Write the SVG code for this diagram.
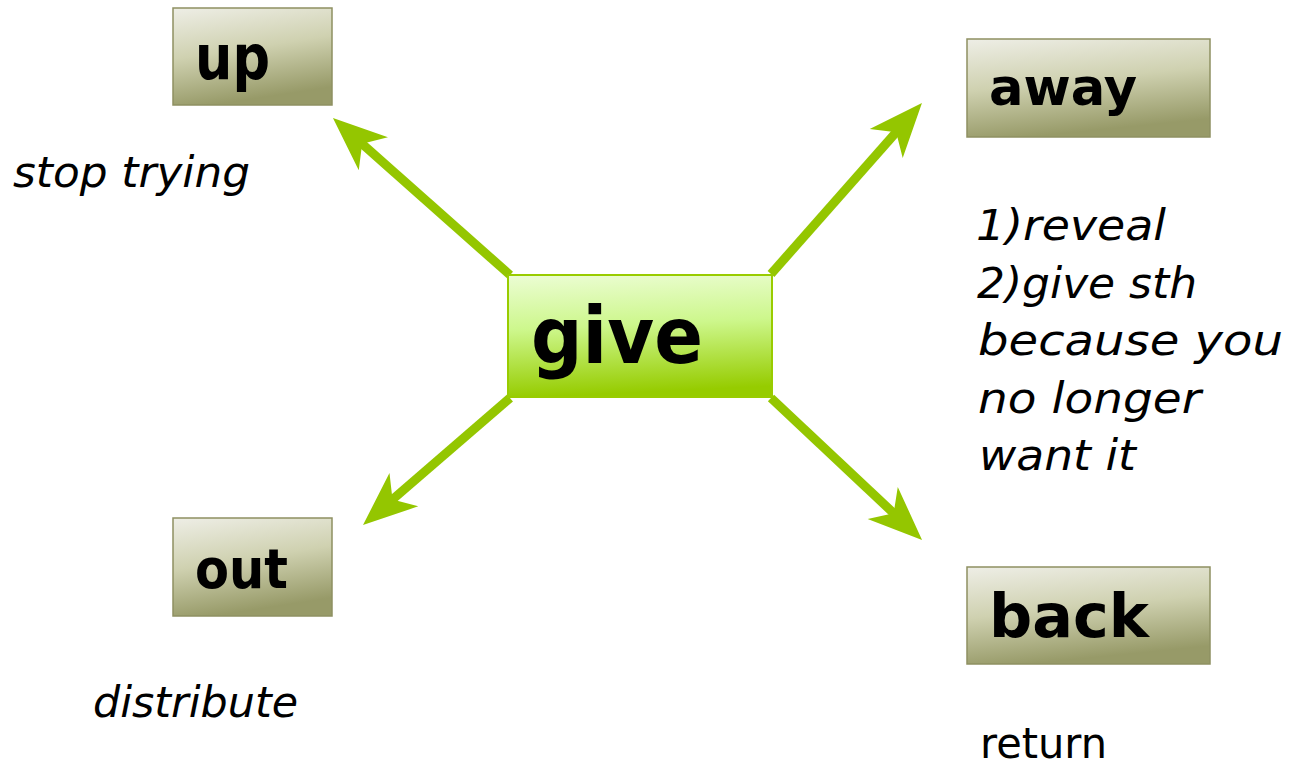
<svg xmlns="http://www.w3.org/2000/svg" width="1294" height="767" viewBox="0 0 1294 767">
  <defs>
    <linearGradient id="olive" x1="0" y1="0" x2="0.25" y2="1">
      <stop offset="0" stop-color="#eeeee6"/>
      <stop offset="0.5" stop-color="#cfd1b0"/>
      <stop offset="1" stop-color="#979a68"/>
    </linearGradient>
    <linearGradient id="lime" x1="0" y1="0" x2="0.1" y2="1">
      <stop offset="0" stop-color="#ecfdd4"/>
      <stop offset="0.45" stop-color="#cdf78c"/>
      <stop offset="1" stop-color="#96cc00"/>
    </linearGradient>
    <marker id="head" markerUnits="userSpaceOnUse" markerWidth="100" markerHeight="70" viewBox="-35 -35 100 70" refX="0" refY="0" orient="auto" overflow="visible">
      <path d="M30,0 L-24,-22 L-9,0 L-24,22 Z" fill="#94c600"/>
    </marker>
    <style>
      .box { fill: url(#olive); stroke: #8e9062; stroke-width: 1.5; }
      .center { fill: url(#lime); stroke: #99cc00; stroke-width: 2; }
      .lbl { font-family: "DejaVu Sans", "Liberation Sans", sans-serif; font-weight: bold; fill: #000; }
      .note { font-family: "DejaVu Sans", "Liberation Sans", sans-serif; font-style: italic; font-size: 43px; fill: #000; }
      .plain { font-family: "DejaVu Sans", "Liberation Sans", sans-serif; font-size: 42px; fill: #000; }
      .conn { stroke: #94c600; stroke-width: 9; fill: none; marker-end: url(#head); }
    </style>
  </defs>

  <g id="connectors">
    <line class="conn" x1="510" y1="275" x2="355.4" y2="137.9"/>
    <line class="conn" x1="771" y1="274" x2="902.1" y2="125.5"/>
    <line class="conn" x1="510" y1="398" x2="385.7" y2="505.4"/>
    <line class="conn" x1="771" y1="398" x2="900.2" y2="519.4"/>
  </g>

  <g id="node-give">
    <rect class="center" x="508" y="275" width="264" height="122"/>
    <text class="lbl" x="531" y="363" font-size="78" textLength="172" lengthAdjust="spacingAndGlyphs">give</text>
  </g>

  <g id="node-up">
    <rect class="box" x="173" y="8" width="159" height="97"/>
    <text class="lbl" x="195" y="79" font-size="62" textLength="75" lengthAdjust="spacingAndGlyphs">up</text>
  </g>
  <g id="note-up">
    <text class="note" x="13" y="187" textLength="237" lengthAdjust="spacingAndGlyphs">stop trying</text>
  </g>

  <g id="node-away">
    <rect class="box" x="967" y="39" width="243" height="98"/>
    <text class="lbl" x="989" y="105" font-size="52" textLength="148" lengthAdjust="spacingAndGlyphs">away</text>
  </g>
  <g id="note-away">
    <text class="note" x="976" y="240" textLength="190" lengthAdjust="spacingAndGlyphs">1)reveal</text>
    <text class="note" x="977" y="297.5" textLength="220" lengthAdjust="spacingAndGlyphs">2)give sth</text>
    <text class="note" x="978" y="355" textLength="305" lengthAdjust="spacingAndGlyphs">because you</text>
    <text class="note" x="978" y="412.5" textLength="223" lengthAdjust="spacingAndGlyphs">no longer</text>
    <text class="note" x="979" y="470" textLength="157" lengthAdjust="spacingAndGlyphs">want it</text>
  </g>

  <g id="node-out">
    <rect class="box" x="173" y="518" width="159" height="98"/>
    <text class="lbl" x="195" y="588" font-size="56" textLength="93" lengthAdjust="spacingAndGlyphs">out</text>
  </g>
  <g id="note-out">
    <text class="note" x="93" y="717" textLength="205" lengthAdjust="spacingAndGlyphs">distribute</text>
  </g>

  <g id="node-back">
    <rect class="box" x="967" y="567" width="243" height="97"/>
    <text class="lbl" x="989" y="637" font-size="60" textLength="160" lengthAdjust="spacingAndGlyphs">back</text>
  </g>
  <g id="note-back">
    <text class="plain" x="980" y="758" textLength="127" lengthAdjust="spacingAndGlyphs">return</text>
  </g>
</svg>
